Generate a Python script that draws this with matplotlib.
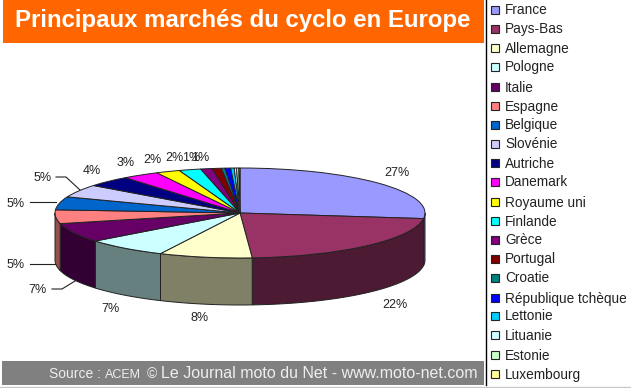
import numpy as np
import matplotlib
matplotlib.use("Agg")
import matplotlib.pyplot as plt

plt.rcParams['font.family'] = ['Liberation Sans', 'DejaVu Sans']

countries = ["France", "Pays-Bas", "Allemagne", "Pologne", "Italie", "Espagne", "Belgique",
             "Slovénie", "Autriche", "Danemark", "Royaume uni", "Finlande", "Grèce", "Portugal",
             "Croatie", "République tchèque", "Lettonie", "Lituanie", "Estonie", "Luxembourg"]
shares = [26.9, 21.9, 8.1, 7.2, 6.9, 4.9, 4.7, 4.6, 3.9, 3.2, 2.1, 1.9, 1.0, 0.8,
          0.3, 0.5, 0.3, 0.2, 0.2, 0.1]
colors = ["#9999ff", "#993366", "#ffffcc", "#ccffff", "#660066", "#ff8080", "#0066cc",
          "#ccccff", "#000080", "#ff00ff", "#ffff00", "#00ffff", "#800080", "#800000",
          "#008080", "#0000ff", "#00ccff", "#ccffff", "#ccffcc", "#ffff99"]
side_colors = ["#4d4d80", "#4d1a33", "#808066", "#668080", "#330033", "#994d4d"]

pct_labels = ["27%", "22%", "8%", "7%", "7%", "5%", "5%", "5%", "4%", "3%", "2%", "2%", "1%", "1%"]
label_x = [397, 395, 200, 110, 37, 16, 16, 43, 92, 126, 152, 174, 191, 200]
label_y = [173, 305, 318, 309, 290, 265, 204, 178, 171, 163, 160, 158, 158, 158]
leaders = [([30, 56], [264, 264]),
           ([52, 62, 75], [289, 289, 281]),
           ([30, 56], [202, 202]),
           ([56, 66, 80], [177, 177, 190])]

fig = plt.figure(figsize=(6.31, 3.88), dpi=100)

# overlay in pixels for the banners, legend and labels
ax = fig.add_axes([0, 0, 1, 1])
ax.set_xlim(0, 631)
ax.set_ylim(388, 0)
ax.axis("off")

# pie axes: the unit circle lands on the flattened ellipse
cx, cy, rx, ry, depth = 240, 213, 185, 45, 47
pie = fig.add_axes([0, 0, 1, 1], zorder=2)
pie.patch.set_alpha(0)
edge = "#222222"
pie.pie(shares, colors=colors, startangle=90, counterclock=False,
        wedgeprops={"edgecolor": edge, "linewidth": 0.7})
pie.set_aspect("auto")
pie.set_xlim((0 - cx) / rx, (631 - cx) / rx)
pie.set_ylim((cy - 388) / ry, cy / ry)

# side wall of the slices on the front half
drop = depth / ry
ends = np.cumsum(shares) / sum(shares) * 2 * np.pi
starts = np.concatenate([[0], ends[:-1]])
for i, (a, b) in enumerate(zip(starts, ends)):
    a, b = max(a, np.pi / 2), min(b, 3 * np.pi / 2)
    if b <= a:
        continue
    t = np.linspace(a, b, 60)
    xs = np.sin(t)
    ys = np.cos(t)
    pie.fill(np.r_[xs, xs[::-1]], np.r_[ys, ys[::-1] - drop], facecolor=side_colors[i],
             edgecolor=edge, linewidth=0.7, zorder=0)

for xs, ys in leaders:
    ax.plot(xs, ys, color="#222222", lw=0.8)
for lab, x, y in zip(pct_labels, label_x, label_y):
    ax.text(x, y, lab, fontsize=9, color="#222222", ha="center", va="center")

# title banner
ax.fill_between([3, 484], 0, 43, color="#ff6600", lw=0)
ax.text(243, 21, "Principaux marchés du cyclo en Europe", color="white", fontsize=17.3,
        fontweight="bold", ha="center", va="center")

# source banner
ax.fill_between([2, 484], 361, 385, color="#808080", lw=0)
ax.text(49, 374, "Source :", color="#eeeeee", fontsize=10, va="center")
ax.text(105, 374.5, "ACEM", color="#eeeeee", fontsize=9, va="center")
ax.text(147, 374, "©", color="#eeeeee", fontsize=10, va="center")
ax.text(161, 373.5, "Le Journal moto du Net - www.moto-net.com", color="#eeeeee", fontsize=11.5, va="center")

# legend column
ax.plot([486, 486], [0, 385], color="black", lw=1)
ax.plot([0, 631], [386.5, 386.5], color="#c8c8c8", lw=1)
legend_y = [10, 29, 48, 67, 87, 106, 125, 144, 163, 182, 202, 221, 240, 259, 278, 298, 316, 335, 355, 374]
for name, col, y in zip(countries, colors, legend_y):
    ax.fill([491, 499, 499, 491], [y - 4, y - 4, y + 4, y + 4], facecolor=col, edgecolor="#222222", lw=0.8)
    ax.text(505, y + 0.5, name, fontsize=9.8, color="#222222", va="center")

fig.savefig("out.png", dpi=100)
plt.close(fig)
